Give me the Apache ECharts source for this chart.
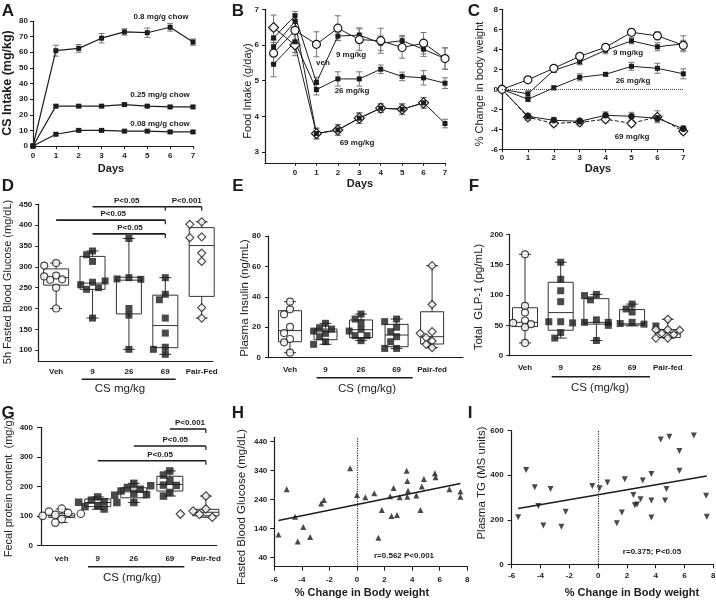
<!DOCTYPE html>
<html>
<head>
<meta charset="utf-8">
<script src="https://cdn.jsdelivr.net/npm/echarts@6/dist/echarts.min.js"></script>
<style>
  html, body { margin: 0; padding: 0; background: #fff; }
  #chart { width: 716px; height: 602px; }
</style>
</head>
<body>
<div id="chart"></div>
<script>
// ---------- data ----------
// A: CS intake
const days = [0, 1, 2, 3, 4, 5, 6, 7];
const csHigh = [0, 61, 62.5, 69, 73, 72.5, 76, 66.5];
const csHighErr = [0, 3.5, 2.5, 3, 2, 3, 2.5, 2];
const csMid = [0, 25.5, 25.5, 25.5, 26.5, 25.5, 25, 25];
const csMidErr = [0, 1, 0.8, 0.8, 0.8, 0.7, 0.8, 0.8];
const csLow = [0, 7.5, 10, 10, 9.5, 9.5, 9, 9];
const csLowErr = [0, 0.8, 0.8, 0.8, 0.7, 0.8, 0.8, 0.8];

// B: food intake (first point is the pre-baseline day)
const foodDays = [-1, 0, 1, 2, 3, 4, 5, 6, 7];
const foodVeh = [5.77, 6.41, 6.02, 6.47, 6.15, 6.12, 5.93, 6.05, 5.62];
const foodVehErr = [0.3, 0.3, 0.35, 0.35, 0.3, 0.35, 0.3, 0.3, 0.3];
const food9 = [6.2, 6.82, 4.95, 6.25, 6.28, 6.05, 6.12, 5.88, 5.62];
const food9Err = [0.2, 0.12, 0.15, 0.12, 0.2, 0.2, 0.15, 0.2, 0.3];
const food26 = [5.46, 6.09, 4.75, 5.05, 5.05, 5.32, 5.12, 5.08, 4.93];
const food26Err = [0.35, 0.3, 0.15, 0.2, 0.2, 0.12, 0.12, 0.2, 0.15];
const food69 = [5.95, 6.66, 3.52, 3.62, 3.95, 4.23, 4.2, 4.38, 3.8];
const food69Err = [0.2, 0.2, 0.15, 0.15, 0.15, 0.12, 0.15, 0.15, 0.12];
const foodPF = [6.49, 6.0, 3.52, 3.62, 3.95, 4.23, 4.2, 4.38, null];
const foodPFErr = [0.35, 0.3, 0.15, 0.15, 0.15, 0.12, 0.15, 0.15, 0];

// C: % change in body weight
const bwVeh = [0, 0.95, 2.1, 3.3, 4.2, 5.7, 5.35, 4.4];
const bwVehErr = [0, 0.2, 0.2, 0.25, 0.25, 0.3, 0.4, 0.5];
const bw9 = [0, -0.45, 1.9, 2.75, 3.9, 4.85, 4.25, 4.55];
const bw9Err = [0, 0.3, 0.2, 0.3, 0.35, 0.3, 0.4, 0.8];
const bw26 = [0, -1.0, 0.15, 1.2, 1.5, 2.3, 2.1, 1.55];
const bw26Err = [0, 0.2, 0.2, 0.35, 0.15, 0.4, 0.5, 0.5];
const bw69 = [0, -2.7, -3.1, -3.2, -2.6, -2.7, -2.9, -3.95];
const bw69Err = [0, 0.3, 0.3, 0.3, 0.35, 0.4, 0.3, 0.3];
const bwPF = [0, -2.8, -3.4, -3.3, -3.0, -3.4, -2.75, -4.2];
const bwPFErr = [0, 0.3, 0.3, 0.3, 0.3, 0.3, 0.6, 0.3];

// D-G: box plots, box = [min, q1, median, q3, max]
const glucoseNames = ['Veh', '9', '26', '69', 'Pair-Fed'];
const glucosePts = [
  [309, 303, 279, 277, 270, 269, 250, 200],
  [338, 329, 313, 263, 257, 250, 246, 177],
  [368, 274, 271, 270, 266, 200, 184, 102],
  [274, 234, 221, 177, 141, 107, 102, 90],
  [408, 402, 372, 370, 333, 313, 202, 177]
];
const glucoseBox = [
  [200, 256, 274, 295, 309], [177, 246, 261, 325, 338], [102, 187, 268, 275, 368],
  [90, 106, 159, 232, 274], [177, 229, 351, 394, 408]
];
const glucoseBrackets = [[1, 3, 444, 1.94], [3, 4, 444, 3.59], [0, 3, 412, 1.57], [1, 3, 379, 2.03]];
const glucoseBracketText = ['P<0.05', 'P<0.001', 'P<0.05', 'P<0.05'];

const insulinNames = ['Veh', '9', '26', '69', 'Pair-fed'];
const insulinPts = [
  [36.8, 31.8, 28.5, 20.2, 16.2, 12.3, 10.1, 3.3],
  [22.6, 19.7, 18.8, 17.5, 16, 13.8, 10.5, 8.8],
  [28.7, 25.4, 23, 18.6, 17.5, 14.5, 14.5, 11.2],
  [25.4, 23.7, 20, 17.1, 13.8, 10.5, 6.1, 6.1],
  [60.5, 35, 17.1, 16, 13.2, 11, 8.8, 6.6]
];
const insulinBox = [
  [3.3, 10.5, 17.8, 30.9, 36.8], [8.8, 11.8, 17, 18.8, 22.6], [11.2, 13.2, 18.4, 24.8, 28.7],
  [6.1, 7.2, 14.9, 21.9, 25.4], [6.6, 9, 13.8, 30.2, 60.5]
];

const glpNames = ['Veh', '9', '26', '69', 'Pair-fed'];
const glpPts = [
  [167, 82, 71, 58, 54, 52, 47, 21],
  [154, 126, 107, 89, 56, 56, 38, 29],
  [101, 99, 92, 59, 55, 55, 54, 25],
  [85, 77, 72, 55, 53, 52, 50, 49],
  [60, 43, 43, 42, 37, 35, 29, 29]
];
const glpBox = [
  [21, 48, 55, 79, 167], [29, 42, 71, 121, 154], [25, 52, 55, 94, 101],
  [49, 50.5, 52.5, 76, 85], [29, 30, 38, 43, 60]
];

const fecalNames = ['veh', '9', '26', '69', 'Pair-fed'];
const fecalPts = [
  [124, 114, 110, 107, 103, 100, 89, 77],
  [164, 153, 148, 146, 145, 134, 131, 123],
  [210, 196, 190, 184, 176, 172, 170, 145],
  [252, 238, 219, 204, 203, 202, 179, 167],
  [167, 123, 116, 114, 106, 106, 105, 95]
];
const fecalBox = [
  [77, 94, 100, 107, 123], [122, 131, 145, 157, 164], [145, 161, 181, 195, 210],
  [167, 184, 206, 234, 252], [95, 100, 112, 122, 167]
];
const fecalBrackets = [[3, 4, 394, 3.56], [2, 4, 336.6, 3.15], [1, 4, 286.8, 2.73]];
const fecalBracketText = ['P<0.001', 'P<0.05', 'P<0.05'];

// H: glucose vs % body weight change
const hWeight = [-5.7, -5.1, -4.5, -4.3, -3.9, -3.4, -2.6, -2.4, -0.5, 0.0, 0.6, 1.25, 1.55, 1.8, 2.4, 2.5,
  2.65, 2.9, 3.1, 3.6, 3.65, 3.65, 3.7, 4.3, 4.6, 4.7, 4.85, 5.65, 5.7, 6.7, 7.5, 7.5];
const hGlucose = [120, 276, 181, 96, 146, 111, 227, 239, 348, 256, 248, 262, 109, 204, 252, 184,
  280, 187, 248, 340, 304, 250, 271, 254, 204, 285, 311, 331, 317, 276, 268, 250];
const hFit = [[-5.7, 168], [7.5, 296]];

// I: plasma TG vs % body weight change
const iWeight = [-5.55, -5.0, -4.4, -4.15, -3.8, -3.3, -2.55, -2.25, -0.4, 0.1, 0.65, 1.3, 1.65, 1.85, 2.45,
  2.55, 2.7, 2.95, 3.1, 3.7, 3.7, 3.7, 4.35, 4.75, 4.65, 4.95, 5.65, 5.65, 6.65, 7.5, 7.55];
const iTG = [211, 423, 346, 262, 174, 338, 169, 236, 352, 341, 367, 184, 233, 382, 311,
  265, 269, 292, 376, 405, 286, 210, 561, 338, 286, 573, 509, 420, 578, 308, 214];
const iFit = [[-5.55, 251], [7.55, 397]];

// ---------- styling helpers ----------
const FONT = '"Liberation Sans", Arial, Helvetica, sans-serif';
const INK = '#1c1c1c';
const font = (size, bold) => (bold ? 'bold ' : '') + size + 'px ' + FONT;

const SQ = { symbol: 'rect', symbolSize: 5, itemStyle: { color: INK } };
const OC = { symbol: 'circle', symbolSize: 8, itemStyle: { color: '#fff', borderColor: INK, borderWidth: 1.2 } };
const OD = { symbol: 'diamond', symbolSize: 10, itemStyle: { color: '#fff', borderColor: INK, borderWidth: 1.2 } };
const FC = { symbol: 'circle', symbolSize: 6.5, itemStyle: { color: INK } };

const grids = [
  { left: 33, top: 21, width: 160, height: 125 },      // A
  { left: 265, top: 9.3, width: 180, height: 153.5 },  // B
  { left: 502, top: 9.3, width: 181.3, height: 140 },  // C
  { left: 38.3, top: 204.3, width: 174.7, height: 156.7 }, // D
  { left: 268, top: 236, width: 195, height: 121.7 },  // E
  { left: 509.3, top: 234.3, width: 182.4, height: 121.4 }, // F
  { left: 41, top: 427.3, width: 175.7, height: 118 }, // G
  { left: 274.3, top: 437.3, width: 193, height: 129.4 }, // H
  { left: 511.7, top: 430.7, width: 201.6, height: 133.6 } // I
].map(g => Object.assign({ outerBoundsMode: 'none', containLabel: false }, g));

function makeAxis(gridIndex, min, max, o = {}) {
  const a = {
    type: 'value', gridIndex, min, max,
    axisLine: { show: true, onZero: false, lineStyle: { color: INK, width: 1.2 } },
    axisTick: { show: o.ticks !== false, length: o.tickLen || 3, lineStyle: { color: INK, width: 1 } },
    axisLabel: { color: INK, fontFamily: FONT, fontSize: 8, fontWeight: 'bold', margin: o.margin ?? 5 },
    splitLine: { show: false }
  };
  if (o.interval) a.interval = o.interval;
  if (o.values) { a.axisLabel.customValues = o.values; a.axisTick.customValues = o.values; }
  if (o.names) a.axisLabel.formatter = v => o.names[Math.round(v)];
  return a;
}

const xAxes = [
  makeAxis(0, 0, 7, { interval: 1, margin: 6 }),
  makeAxis(1, -1.4, 7, { values: [0, 1, 2, 3, 4, 5, 6, 7], margin: 6 }),
  makeAxis(2, 0, 7, { interval: 1, margin: 4 }),
  makeAxis(3, -0.49, 4.31, { values: [0, 1, 2, 3, 4], names: glucoseNames, ticks: false, margin: 7 }),
  makeAxis(4, -0.62, 4.87, { values: [0, 1, 2, 3, 4], names: insulinNames, ticks: false, margin: 8 }),
  makeAxis(5, -0.44, 4.67, { values: [0, 1, 2, 3, 4], names: glpNames, ticks: false, margin: 8 }),
  makeAxis(6, -0.575, 4.3, { values: [0, 1, 2, 3, 4], names: fecalNames, ticks: false, margin: 9 }),
  makeAxis(7, -6, 8, { interval: 2, margin: 9, tickLen: 4 }),
  makeAxis(8, -6, 8, { interval: 2, margin: 7, tickLen: 4 })
];
const yAxes = [
  makeAxis(0, 0, 80, { interval: 10, margin: 5 }),
  makeAxis(1, 2.7, 7, { values: [3, 4, 5, 6, 7], margin: 6 }),
  makeAxis(2, -6, 8, { interval: 2, margin: 4 }),
  makeAxis(3, 74, 450, { values: [100, 150, 200, 250, 300, 350, 400, 450], margin: 6 }),
  makeAxis(4, 0, 80, { interval: 20, margin: 7 }),
  makeAxis(5, 0, 200, { interval: 50, margin: 6 }),
  makeAxis(6, 0, 400, { interval: 100, margin: 8, tickLen: 4 }),
  makeAxis(7, 9, 455, { values: [40, 140, 240, 340, 440], margin: 7, tickLen: 4 }),
  makeAxis(8, 0, 600, { interval: 200, margin: 8, tickLen: 4 })
];

// ---------- series builders ----------
const series = [];

function lineSer(g, xs, ys, sym, dashed) {
  const data = xs.map((x, i) => [x, ys[i]]).filter(d => d[1] != null);
  return Object.assign({
    type: 'line', xAxisIndex: g, yAxisIndex: g, data, z: 3,
    lineStyle: { color: INK, width: 1, type: dashed ? 'dashed' : 'solid' },
    emphasis: { disabled: true }, silent: true
  }, sym);
}

function errSer(g, xs, ys, es) {
  const data = xs.map((x, i) => [x, ys[i], es[i]]).filter(d => d[1] != null && d[2] > 0);
  return {
    type: 'custom', xAxisIndex: g, yAxisIndex: g, data, z: 1, silent: true,
    encode: { x: 0, y: 1 },
    renderItem(params, api) {
      const x = api.value(0), y = api.value(1), e = api.value(2);
      const t = api.coord([x, y + e]), b = api.coord([x, y - e]);
      const st = { stroke: '#777', lineWidth: 1 };
      return { type: 'group', children: [
        { type: 'line', shape: { x1: t[0], y1: t[1], x2: b[0], y2: b[1] }, style: st },
        { type: 'line', shape: { x1: t[0] - 3, y1: t[1], x2: t[0] + 3, y2: t[1] }, style: st },
        { type: 'line', shape: { x1: b[0] - 3, y1: b[1], x2: b[0] + 3, y2: b[1] }, style: st }
      ] };
    }
  };
}

function boxSer(g, box, hw) {
  return {
    type: 'custom', xAxisIndex: g, yAxisIndex: g, z: 2, silent: true,
    data: box.map((b, i) => [i].concat(b)),
    encode: { x: 0, y: [1, 2, 3, 4, 5] },
    renderItem(params, api) {
      const x = api.value(0);
      const c = [1, 2, 3, 4, 5].map(k => api.coord([x, api.value(k)]));
      const cx = c[0][0], cap = 6;
      const st = { stroke: '#333', lineWidth: 1 };
      const ln = (x1, y1, x2, y2) => ({ type: 'line', shape: { x1, y1, x2, y2 }, style: st });
      return { type: 'group', children: [
        { type: 'rect', shape: { x: cx - hw, y: c[3][1], width: 2 * hw, height: c[1][1] - c[3][1] },
          style: { stroke: '#333', lineWidth: 1, fill: 'rgba(0,0,0,0)' } },
        ln(cx - hw, c[2][1], cx + hw, c[2][1]),
        ln(cx, c[3][1], cx, c[4][1]),
        ln(cx, c[1][1], cx, c[0][1]),
        ln(cx - cap, c[4][1], cx + cap, c[4][1]),
        ln(cx - cap, c[0][1], cx + cap, c[0][1])
      ] };
    }
  };
}

// simple beeswarm: horizontal offsets (in axis units) so markers do not overlap
function swarm(vals, pxPerUnit, size, pxPerCat) {
  const placed = [];
  return vals.map(v => {
    const y = v * pxPerUnit;
    for (let k = 0; k < 14; k++) {
      const dx = (k % 2 ? -1 : 1) * Math.ceil(k / 2) * size * 0.85;
      if (placed.every(p => Math.hypot(p[0] - dx, p[1] - y) >= size * 0.95)) {
        placed.push([dx, y]);
        return dx / pxPerCat;
      }
    }
    return 0;
  });
}

function bracketSer(g, rows, texts) {
  return {
    type: 'custom', xAxisIndex: g, yAxisIndex: g, z: 4, silent: true, clip: false,
    data: rows, encode: { x: [0, 1, 3], y: 2 },
    renderItem(params, api) {
      const a = api.coord([api.value(0), api.value(2)]);
      const b = api.coord([api.value(1), api.value(2)]);
      const t = api.coord([api.value(3), api.value(2)]);
      return { type: 'group', children: [
        { type: 'line', shape: { x1: a[0], y1: a[1], x2: b[0], y2: b[1] }, style: { stroke: INK, lineWidth: 1.6 } },
        { type: 'line', shape: { x1: b[0], y1: b[1], x2: b[0], y2: b[1] + 4 }, style: { stroke: INK, lineWidth: 1.2 } },
        { type: 'text', x: t[0], y: a[1] - 2,
          style: { text: texts[params.dataIndex], fill: INK, font: font(8, true),
            align: 'center', verticalAlign: 'bottom', textAlign: 'center', textVerticalAlign: 'bottom' } }
      ] };
    }
  };
}

// ---------- A ----------
[[csHigh, csHighErr], [csMid, csMidErr], [csLow, csLowErr]].forEach(([v, e]) => {
  series.push(errSer(0, days, v, e));
  series.push(Object.assign(lineSer(0, days, v, SQ), { lineStyle: { color: INK, width: 1.2 } }));
});

// ---------- B ----------
[[foodPF, foodPFErr], [food26, food26Err], [food9, food9Err], [food69, food69Err], [foodVeh, foodVehErr]]
  .forEach(([v, e]) => series.push(errSer(1, foodDays, v, e)));
series.push(lineSer(1, foodDays, foodPF, OD));
series.push(lineSer(1, foodDays, food26, SQ));
series.push(lineSer(1, foodDays, food9, SQ));
series.push(lineSer(1, foodDays, food69, SQ));
series.push(lineSer(1, foodDays, foodVeh, OC));

// ---------- C ----------
[[bwPF, bwPFErr], [bw69, bw69Err], [bw26, bw26Err], [bw9, bw9Err], [bwVeh, bwVehErr]]
  .forEach(([v, e]) => series.push(errSer(2, days, v, e)));
const zeroC = lineSer(2, days, bwPF, Object.assign({}, OD, { symbolSize: 9 }), true);
zeroC.markLine = { silent: true, symbol: 'none', label: { show: false },
  lineStyle: { type: 'dotted', color: '#444', width: 1 }, data: [{ yAxis: 0 }] };
series.push(zeroC);
series.push(lineSer(2, days, bw69, FC));
series.push(lineSer(2, days, bw26, SQ));
series.push(lineSer(2, days, bw9, SQ));
series.push(lineSer(2, days, bwVeh, OC));

// ---------- D-G box plots ----------
const boxPanels = [
  { g: 3, pts: glucosePts, box: glucoseBox, ymin: 74, ymax: 450, xmin: -0.49, xmax: 4.31, size: 7, hw: 12.5 },
  { g: 4, pts: insulinPts, box: insulinBox, ymin: 0, ymax: 80, xmin: -0.62, xmax: 4.87, size: 7, hw: 11.5 },
  { g: 5, pts: glpPts, box: glpBox, ymin: 0, ymax: 200, xmin: -0.44, xmax: 4.67, size: 7, hw: 12.5 },
  { g: 6, pts: fecalPts, box: fecalBox, ymin: 0, ymax: 400, xmin: -0.575, xmax: 4.3, size: 7.5, hw: 13 }
];
boxPanels.forEach(p => {
  const gr = grids[p.g];
  const pxU = gr.height / (p.ymax - p.ymin);
  const pxC = gr.width / (p.xmax - p.xmin);
  series.push(boxSer(p.g, p.box, p.hw));
  p.pts.forEach((vals, i) => {
    const off = swarm(vals, pxU, p.size, pxC);
    const base = i === 0 ? OC : i === 4 ? OD : SQ;
    series.push(Object.assign({}, base, {
      type: 'scatter', xAxisIndex: p.g, yAxisIndex: p.g, z: 3, silent: true,
      symbolSize: i === 4 ? p.size + 1 : p.size,
      data: vals.map((v, k) => [i + off[k], v])
    }));
  });
});
series.push(bracketSer(3, glucoseBrackets, glucoseBracketText));
series.push(bracketSer(6, fecalBrackets, fecalBracketText));

// ---------- H, I scatter ----------
const dotted = { silent: true, symbol: 'none', label: { show: false },
  lineStyle: { type: 'dotted', color: '#333', width: 1.2 }, data: [{ xAxis: 0 }] };
series.push({ type: 'scatter', xAxisIndex: 7, yAxisIndex: 7, symbol: 'triangle', symbolSize: 6,
  itemStyle: { color: INK }, silent: true, z: 3,
  data: hWeight.map((x, i) => [x, hGlucose[i]]), markLine: dotted });
series.push({ type: 'line', xAxisIndex: 7, yAxisIndex: 7, data: hFit, symbol: 'none', silent: true,
  lineStyle: { color: INK, width: 1.5 } });
series.push({ type: 'scatter', xAxisIndex: 8, yAxisIndex: 8, symbol: 'triangle', symbolRotate: 180, symbolSize: 6,
  itemStyle: { color: INK }, silent: true, z: 3,
  data: iWeight.map((x, i) => [x, iTG[i]]), markLine: dotted });
series.push({ type: 'line', xAxisIndex: 8, yAxisIndex: 8, data: iFit, symbol: 'none', silent: true,
  lineStyle: { color: INK, width: 1.5 } });

// ---------- texts ----------
function txt(text, x, y, size, bold, rot) {
  return { type: 'text', x, y, rotation: rot ? Math.PI / 2 : 0, silent: true,
    style: { text, fill: INK, font: font(size, bold),
      align: 'center', verticalAlign: 'middle', textAlign: 'center', textVerticalAlign: 'middle' } };
}
function bar(x1, x2, y) {
  return { type: 'line', silent: true, shape: { x1, y1: y, x2, y2: y }, style: { stroke: INK, lineWidth: 1.6 } };
}
const graphic = [
  txt('A', 8, 11, 17, true), txt('B', 238, 11, 17, true), txt('C', 474, 11, 17, true),
  txt('D', 8, 186, 17, true), txt('E', 238, 186, 17, true), txt('F', 474, 186, 17, true),
  txt('G', 8, 413, 17, true), txt('H', 238, 413, 17, true), txt('I', 470, 413, 17, true),

  txt('CS Intake (mg/kg)', 8, 83, 12.5, true, true),
  txt('Food Intake (g/day)', 248, 91, 11, false, true),
  txt('% Change in body weight', 480, 84, 11, false, true),
  txt('5h Fasted Blood Glucose (mg/dL)', 8, 282, 11, false, true),
  txt('Plasma Insulin (ng/mL)', 245, 298, 11.5, false, true),
  txt('Total  GLP-1 (pg/mL)', 479, 297, 11.5, false, true),
  txt('Fecal protein content  (mg/g)', 9, 487, 11, false, true),
  txt('Fasted Blood Glucose (mg/dL)', 242, 507, 11.5, false, true),
  txt('Plasma TG (MS units)', 482, 483, 11.5, false, true),

  txt('Days', 111, 169, 11, true), txt('Days', 360, 184, 11, true), txt('Days', 598, 169, 11, true),
  txt('CS mg/kg', 120, 389, 11.5), txt('CS (mg/kg)', 367, 389, 11.5),
  txt('CS (mg/kg)', 600, 388, 11.5), txt('CS (mg/kg)', 132, 578, 11.5),
  txt('% Change in Body weight', 362, 593, 11, true), txt('% Change in Body weight', 632, 593, 11, true),

  bar(81.7, 175.7, 379.3), bar(316.7, 412.7, 377.7), bar(551.7, 650, 376.7), bar(88, 184.3, 566.7),

  txt('0.8 mg/g chow', 161, 17, 8, true), txt('0.25 mg/g chow', 160, 95, 8, true),
  txt('0.08 mg/g chow', 160, 124, 8, true),
  txt('veh', 323, 63, 8, true), txt('9 mg/kg', 351, 55, 8, true),
  txt('26 mg/kg', 352, 91, 8, true), txt('69 mg/kg', 357, 143, 8, true),
  txt('9 mg/kg', 628, 53, 8, true), txt('26 mg/kg', 633, 81, 8, true), txt('69 mg/kg', 632, 137, 8, true),
  txt('r=0.562 P<0.001', 404, 556, 8, true), txt('r=0.375; P<0.05', 652, 552, 8, true)
];

const chart = echarts.init(document.getElementById('chart'), null, { renderer: 'canvas' });
chart.setOption({
  animation: false,
  backgroundColor: '#fff',
  textStyle: { fontFamily: FONT },
  grid: grids,
  xAxis: xAxes,
  yAxis: yAxes,
  series,
  graphic
});
</script>
</body>
</html>
